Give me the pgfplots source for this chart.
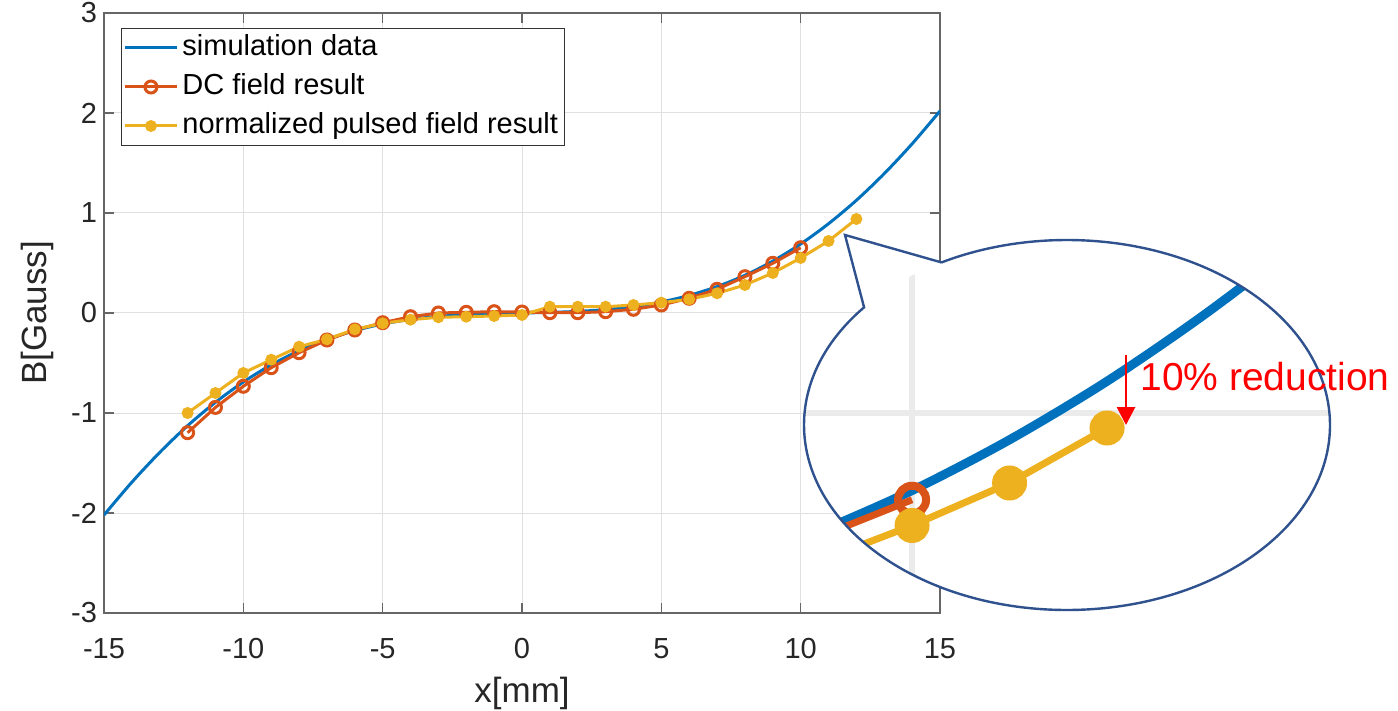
\documentclass[border=0pt]{standalone}
\usepackage{pgfplots}
\pgfplotsset{compat=1.18}
\usepackage{pgfplotstable}
\usepackage{fontspec}
\setmainfont{Liberation Sans}
\usetikzlibrary{arrows.meta}
\definecolor{mblue}{rgb}{0,0.447,0.741}
\definecolor{morange}{rgb}{0.850,0.325,0.098}
\definecolor{myellow}{rgb}{0.929,0.694,0.125}
\definecolor{ellcol}{RGB}{47,82,143}

\pgfplotstableread{
x y
-15 -2.020
-14 -1.692
-13 -1.394
-12 -1.127
-11 -0.893
-10 -0.690
-9 -0.519
-8 -0.377
-7 -0.264
-6 -0.176
-5 -0.110
-4 -0.064
-3 -0.034
-2 -0.016
-1 -0.006
0 0.000
1 0.006
2 0.016
3 0.034
4 0.064
5 0.110
6 0.176
7 0.264
8 0.377
9 0.519
10 0.690
11 0.893
12 1.127
13 1.394
14 1.692
15 2.020
}\simdata

\pgfplotstableread{
x y
-12 -1.197
-11 -0.944
-10 -0.733
-9 -0.547
-8 -0.397
-7 -0.270
-6 -0.170
-5 -0.097
-4 -0.037
-3 0.000
-2 0.007
-1 0.013
0 0.010
1 0.003
2 0.003
3 0.013
4 0.037
5 0.080
6 0.147
7 0.237
8 0.363
9 0.497
10 0.653
}\dcdata

\pgfplotstableread{
x y
-12 -1.000
-11 -0.800
-10 -0.600
-9 -0.467
-8 -0.337
-7 -0.263
-6 -0.163
-5 -0.103
-4 -0.067
-3 -0.043
-2 -0.037
-1 -0.030
0 -0.020
1 0.063
2 0.063
3 0.063
4 0.080
5 0.103
6 0.137
7 0.197
8 0.280
9 0.400
10 0.550
11 0.720
12 0.940
}\pulsedata

\begin{document}
\begin{tikzpicture}
\useasboundingbox (0,0) rectangle (699pt,-355.5pt);

\begin{axis}[
  at={(52pt,-306.5pt)}, anchor=south west,
  width=418pt, height=300pt, scale only axis,
  xmin=-15, xmax=15, ymin=-3, ymax=3,
  xtick={-15,-10,-5,0,5,10,15},
  xticklabels={-15,-10,-5,0,5,10,15},
  ytick={-3,-2,-1,0,1,2,3},
  yticklabels={-3,-2,-1,0,1,2,3},
  grid=major,
  major grid style={black!12, line width=0.5pt},
  axis line style={black!60, line width=0.6pt},
  tick style={black!60, line width=0.6pt},
  tick align=inside, major tick length=5pt,
  tick label style={font=\fontsize{14.5}{17}\selectfont, text=black!85},
  xticklabel style={anchor=base, yshift=-22.5pt},
  xlabel={x[mm]}, ylabel={B[Gauss]},
  every axis x label/.style={at={(axis description cs:0.5,0)}, yshift=-40pt, anchor=center, font=\fontsize{17.5}{20}\selectfont, text=black!85},
  every axis y label/.style={at={(axis description cs:0,0.5)}, xshift=-33.5pt, rotate=90, anchor=center, font=\fontsize{17.5}{20}\selectfont, text=black!85},
  legend cell align=left,
  legend style={at={(0.0203,0.975)}, anchor=north west, draw=black!80, line width=0.5pt, fill=white,
    font=\fontsize{14.5}{17}\selectfont, inner sep=1pt, row sep=2pt,
    nodes={inner xsep=2pt, inner ysep=1.5pt, text height=11pt, text depth=3.5pt}},
  legend image code/.code={\draw[mark repeat=2,mark phase=2,#1] plot coordinates {(0pt,0pt) (13pt,0pt) (26pt,0pt)};},
]
\addplot[mblue, line width=1.5pt, smooth] table[x=x,y=y] {\simdata};
\addlegendentry{simulation data}
\addplot[morange, line width=1.5pt, mark=o, mark size=3pt, mark options={line width=1.5pt}] table[x=x,y=y] {\dcdata};
\addlegendentry{DC field result}
\addplot[myellow, line width=1.5pt, mark=*, mark size=2.2pt, mark options={draw=myellow, fill=myellow}] table[x=x,y=y] {\pulsedata};
\addlegendentry{normalized pulsed field result}
\end{axis}

% callout shape
\path[fill=white] ([shift={(118.5:131.5pt and 92.5pt)}]533.5pt,-212.5pt) -- (422.5pt,-117.5pt) -- ([shift={(140.5:131.5pt and 92.5pt)}]533.5pt,-212.5pt) arc[start angle=140.5, end angle=478.5, x radius=131.5pt, y radius=92.5pt] -- cycle;

\begin{scope}
\clip (533.5pt,-212.5pt) ellipse [x radius=131.5pt, y radius=92.5pt];
\begin{axis}[
  at={(402pt,-305pt)}, anchor=south west,
  width=263pt, height=185pt, scale only axis,
  xmin=8.892, xmax=14.287, ymin=0.212, ymax=1.692,
  xtick={10}, ytick={1}, xticklabels={}, yticklabels={},
  grid=major, major grid style={black!8, line width=3pt},
  axis line style={draw=none}, major tick length=0pt,
]
\addplot[mblue, line width=4.5pt, smooth] table[x=x,y=y] {\simdata};
\addplot[morange, line width=3.5pt, mark=o, mark size=7pt, mark options={line width=4pt}] table[x=x,y=y] {\dcdata};
\addplot[myellow, line width=3.5pt, mark=*, mark size=7pt, mark options={draw=myellow, fill=myellow}] table[x=x,y=y] {\pulsedata};
\end{axis}
\end{scope}

\draw[ellcol, line width=1.2pt, line join=miter] ([shift={(118.5:131.5pt and 92.5pt)}]533.5pt,-212.5pt) -- (422.5pt,-117.5pt) -- ([shift={(140.5:131.5pt and 92.5pt)}]533.5pt,-212.5pt) arc[start angle=140.5, end angle=478.5, x radius=131.5pt, y radius=92.5pt];

\draw[red, line width=1.4pt, -{Triangle[width=9pt,length=9pt]}] (563pt,-177.5pt) -- (563pt,-212.5pt);
\node[anchor=base west, inner sep=0pt, text=red, font=\fontsize{19.5}{22}\selectfont] at (570pt,-195pt) {10\% reduction};
\end{tikzpicture}
\end{document}
